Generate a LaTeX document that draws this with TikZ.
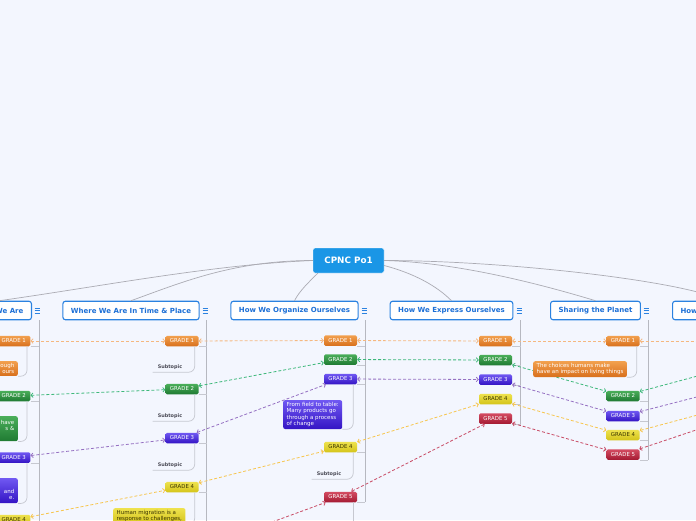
\documentclass[tikz,border=0pt]{standalone}
\usepackage{fontspec}
\setmainfont{DejaVu Sans}
\usetikzlibrary{arrows.meta}

\definecolor{bgblue}{HTML}{F3F6FE}
\definecolor{rootblue}{HTML}{1A96E6}
\definecolor{themeblue}{HTML}{2B82E0}
\definecolor{themetext}{HTML}{1C6FD6}
\definecolor{linkgray}{HTML}{ABABB3}
\definecolor{branchgray}{HTML}{C6C8D0}
\definecolor{trunkgray}{HTML}{B6B8C0}
\definecolor{subtext}{HTML}{4A4A55}
% grade colours
\definecolor{orangetop}{HTML}{F2A04E}
\definecolor{orangebot}{HTML}{D8701C}
\definecolor{greentop}{HTML}{4AAE5A}
\definecolor{greenbot}{HTML}{1F7A32}
\definecolor{purpletop}{HTML}{7058F2}
\definecolor{purplebot}{HTML}{3414C4}
\definecolor{yellowtop}{HTML}{EEE24E}
\definecolor{yellowbot}{HTML}{D4C41A}
\definecolor{yellowtext}{HTML}{3A3400}
\definecolor{redtop}{HTML}{D44C62}
\definecolor{redbot}{HTML}{A41A32}
% dashed links between grades
\definecolor{lnkone}{HTML}{F5B880}
\definecolor{lnktwo}{HTML}{3DB87A}
\definecolor{lnkthree}{HTML}{9570C2}
\definecolor{lnkfour}{HTML}{F7C64E}
\definecolor{lnkfive}{HTML}{C84C66}

\tikzset{
  rootnode/.style={fill=rootblue, draw=white, line width=0.4pt, rounded corners=2pt,
    minimum width=71pt, minimum height=25pt, text=white,
    font=\bfseries\fontsize{8.8}{10}\selectfont},
  themebox/.style={draw=themeblue, line width=1.1pt, fill=white, rounded corners=2.5pt,
    minimum height=18.5pt, inner xsep=8pt, inner ysep=0pt, text=themetext,
    font=\bfseries\fontsize{7}{8}\selectfont},
  gradebox/.style={rounded corners=1.5pt, minimum width=33pt, minimum height=10.5pt,
    inner sep=0pt, text=white, font=\fontsize{5.4}{6}\selectfont},
  notebox/.style={rounded corners=2pt, inner xsep=3.5pt, inner ysep=2pt, text=white,
    align=left, font=\fontsize{5.5}{6.5}\selectfont},
  subline/.style={inner xsep=5pt, inner ysep=0pt, minimum height=10pt, text=subtext,
    font=\bfseries\fontsize{4.9}{6}\selectfont},
  cone/.style={top color=orangetop, bottom color=orangebot},
  ctwo/.style={top color=greentop, bottom color=greenbot},
  cthree/.style={top color=purpletop, bottom color=purplebot},
  cfour/.style={top color=yellowtop, bottom color=yellowbot, text=yellowtext},
  cfive/.style={top color=redtop, bottom color=redbot},
  themelink/.style={draw=linkgray, line width=0.7pt},
  trunkline/.style={draw=trunkgray, line width=1pt},
  branchline/.style={draw=branchgray, line width=0.7pt, rounded corners=6pt},
  gradelink/.style={line width=0.8pt, dash pattern=on 3pt off 2pt,
    {Straight Barb[length=2pt,width=4.5pt]}-{Straight Barb[length=2pt,width=4.5pt]}},
}

\begin{document}
\begin{tikzpicture}[x=1pt,y=-1pt]
\path[use as bounding box] (0,0) rectangle (696,520);
\clip (0,0) rectangle (696,520);
\fill[bgblue] (0,0) rectangle (696,520);

% root and themes
\node[rootnode] (cpnc) at (348.5,260.5) {CPNC Po1};
\node[themebox, anchor=east] (who) at (32,310.5) {Who We Are};
\node[themebox] (where) at (131,310.5) {Where We Are In Time \& Place};
\node[themebox] (organize) at (294.5,310.5) {How We Organize Ourselves};
\node[themebox] (express) at (451.5,310.5) {How We Express Ourselves};
\node[themebox] (sharing) at (595.5,310.5) {Sharing the Planet};
\node[themebox, anchor=west] (world) at (672,310.5) {How the World Works};

\draw[themelink] (cpnc.west) .. controls +(-100,4) and +(100,-14) .. (who.north);
\draw[themelink] (cpnc.west) .. controls +(-80,0) and +(50,-18) .. (where.north);
\draw[themelink] ([xshift=5pt]cpnc.south west) .. controls +(-8,8) and +(5,-10) .. (organize.north);
\draw[themelink] ([yshift=-5pt]cpnc.east) .. controls +(30,8) and +(-15,-15) .. (express.north);
\draw[themelink] (cpnc.east) .. controls +(80,2) and +(-40,-12) .. (sharing.north);
\draw[themelink] (cpnc.east) .. controls +(120,0) and +(-40,-20) .. (world.north);

% menu icons
\foreach \ix in {37.5,205.5,364.5,519.5,646.5}
  \foreach \iy in {308,310.5,313}
    \draw[themeblue, line width=0.9pt] (\ix-2.8,\iy) -- (\ix+2.8,\iy);

% trunks
\coordinate (who-v) at (39,320);
\coordinate (where-v) at (206.5,320);
\coordinate (organize-v) at (365,320);
\coordinate (express-v) at (520.5,320);
\coordinate (sharing-v) at (648,320);

% grades
\node[gradebox, cone, anchor=east] (who1) at (30.5,341) {GRADE 1};
\node[gradebox, ctwo, anchor=east] (who2) at (30.5,396) {GRADE 2};
\node[gradebox, cthree, anchor=east] (who3) at (30.5,457.5) {GRADE 3};
\node[gradebox, cfour, anchor=east] (who4) at (30.5,520) {GRADE 4};

\node[gradebox, cone] (whr1) at (182,341) {GRADE 1};
\node[gradebox, ctwo] (whr2) at (182,389) {GRADE 2};
\node[gradebox, cthree] (whr3) at (182,438) {GRADE 3};
\node[gradebox, cfour] (whr4) at (182,487) {GRADE 4};

\node[gradebox, cone] (org1) at (340.5,340.5) {GRADE 1};
\node[gradebox, ctwo] (org2) at (340.5,359.5) {GRADE 2};
\node[gradebox, cthree] (org3) at (340.5,379) {GRADE 3};
\node[gradebox, cfour] (org4) at (340.5,447) {GRADE 4};
\node[gradebox, cfive] (org5) at (340.5,497) {GRADE 5};

\node[gradebox, cone] (exp1) at (495.5,341) {GRADE 1};
\node[gradebox, ctwo] (exp2) at (495.5,360) {GRADE 2};
\node[gradebox, cthree] (exp3) at (495.5,379.5) {GRADE 3};
\node[gradebox, cfour] (exp4) at (495.5,399) {GRADE 4};
\node[gradebox, cfive] (exp5) at (495.5,418.5) {GRADE 5};

\node[gradebox, cone] (shr1) at (623,341) {GRADE 1};
\node[gradebox, ctwo] (shr2) at (623,396) {GRADE 2};
\node[gradebox, cthree] (shr3) at (623,416) {GRADE 3};
\node[gradebox, cfour] (shr4) at (623,435) {GRADE 4};
\node[gradebox, cfive] (shr5) at (623,454.5) {GRADE 5};

\draw[trunkline] (who-v) -- ++(0,210);
\draw[trunkline] (where-v) -- ++(0,210);
\draw[trunkline] (organize-v) -- (organize-v |- org5.south);
\draw[trunkline] (express-v) -- (express-v |- exp5.south);
\draw[trunkline] (sharing-v) -- (sharing-v |- shr5.south);

\foreach \g in {who1,who2,who3,who4}
  \draw[branchline] (\g.south east) -- (\g.south east -| who-v);
\foreach \g in {whr1,whr2,whr3,whr4}
  \draw[branchline] (\g.south east) -- (\g.south east -| where-v);
\foreach \g in {org1,org2,org3,org4,org5}
  \draw[branchline] (\g.south east) -- (\g.south east -| organize-v);
\foreach \g in {exp1,exp2,exp3,exp4,exp5}
  \draw[branchline] (\g.south east) -- (\g.south east -| express-v);
\foreach \g in {shr1,shr2,shr3,shr4,shr5}
  \draw[branchline] (\g.south east) -- (\g.south east -| sharing-v);

% same grade across themes
\coordinate (wor1) at (720,341);
\coordinate (wor2) at (720,370);
\coordinate (wor3) at (720,391);
\coordinate (wor4) at (720,409);
\coordinate (wor5) at (720,422);
\coordinate (whr5) at (182,555);
\draw[gradelink, lnkone] (who1) -- (whr1);
\draw[gradelink, lnkone] (whr1) -- (org1);
\draw[gradelink, lnkone] (org1) -- (exp1);
\draw[gradelink, lnkone] (exp1) -- (shr1);
\draw[gradelink, lnkone] (shr1) -- (wor1);
\draw[gradelink, lnktwo] (who2) -- (whr2);
\draw[gradelink, lnktwo] (whr2) -- (org2);
\draw[gradelink, lnktwo] (org2) -- (exp2);
\draw[gradelink, lnktwo] (exp2) -- (shr2);
\draw[gradelink, lnktwo] (shr2) -- (wor2);
\draw[gradelink, lnkthree] (who3) -- (whr3);
\draw[gradelink, lnkthree] (whr3) -- (org3);
\draw[gradelink, lnkthree] (org3) -- (exp3);
\draw[gradelink, lnkthree] (exp3) -- (shr3);
\draw[gradelink, lnkthree] (shr3) -- (wor3);
\draw[gradelink, lnkfour] (who4) -- (whr4);
\draw[gradelink, lnkfour] (whr4) -- (org4);
\draw[gradelink, lnkfour] (org4) -- (exp4);
\draw[gradelink, lnkfour] (exp4) -- (shr4);
\draw[gradelink, lnkfour] (shr4) -- (wor4);
\draw[gradelink, lnkfive] (whr5) -- (org5);
\draw[gradelink, lnkfive] (org5) -- (exp5);
\draw[gradelink, lnkfive] (exp5) -- (shr5);
\draw[gradelink, lnkfive] (shr5) -- (wor5);

% subtopics
\node[notebox, cone, align=right, text width=52pt, anchor=north east] (whon1) at (18,361)
  {ough\\ours};
\node[notebox, ctwo, align=right, text width=52pt, text height=6pt, text depth=15pt,
  anchor=north east] (whon2) at (18,416) {have\\s \&\hspace{3pt}};
\node[notebox, cthree, align=right, text width=52pt, text height=13pt, text depth=8pt,
  anchor=north east] (whon3) at (18,478) {and\\e.\hspace{7pt}};
\node[subline] (whrs1) at (170,367) {Subtopic};
\node[subline] (whrs2) at (170,416) {Subtopic};
\node[subline] (whrs3) at (170,465) {Subtopic};
\node[notebox, cfour, anchor=north west] (whrn4) at (113,508)
  {Human migration is a\\response to challenges,};
\node[notebox, cthree, anchor=north west] (orgn3) at (283,400)
  {From field to table:\\Many products go\\through a process\\of change};
\node[subline] (orgs4) at (329,474) {Subtopic};
\node[notebox, cone, anchor=north west] (shrn1) at (533,361)
  {The choices humans make\\have an impact on living things};

\draw[branchline] ([xshift=-3.5pt]who1.south east) |- (whon1.south east);
\draw[branchline] ([xshift=-3.5pt]who2.south east) |- (whon2.south east);
\draw[branchline] ([xshift=-3.5pt]who3.south east) |- (whon3.south east);
\draw[branchline] ([xshift=-3.5pt]who4.south east) -- ++(0,12);
\draw[branchline] ([xshift=-4pt]whr1.south east) |- (whrs1.south west);
\draw[branchline] ([xshift=-4pt]whr2.south east) |- (whrs2.south west);
\draw[branchline] ([xshift=-4pt]whr3.south east) |- (whrs3.south west);
\draw[branchline] ([xshift=-4pt]whr4.south east) |- (whrn4.south east);
\draw[branchline] ([xshift=-4pt]org3.south east) |- (orgn3.south east);
\draw[branchline] ([xshift=-4pt]org4.south east) |- (orgs4.south west);
\draw[branchline] ([xshift=-4pt]org5.south east) -- ++(0,25);
\draw[branchline] ([xshift=-3pt]shr1.south east) |- (shrn1.south east);
\end{tikzpicture}
\end{document}
